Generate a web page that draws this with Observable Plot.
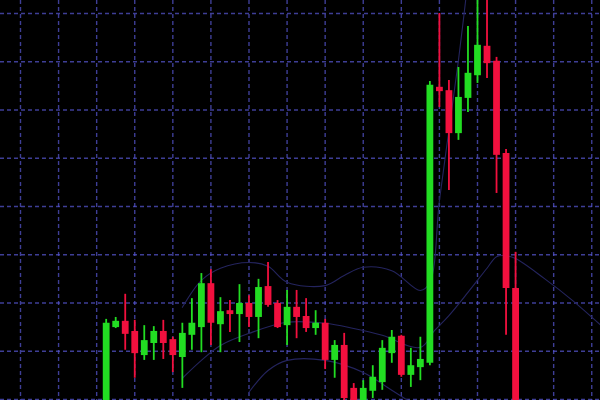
<!DOCTYPE html>
<html>
<head>
<meta charset="utf-8">
<script src="https://cdn.jsdelivr.net/npm/d3@7"></script>
<script src="https://cdn.jsdelivr.net/npm/@observablehq/plot@0.6"></script>
<style>
  html, body { margin: 0; padding: 0; background: #000; overflow: hidden; }
  #chart svg { display: block; }
</style>
</head>
<body>
<div id="chart"></div>
<script>
// Candle data (index = session number)
const opens  = [97.3,114.9,116.2,114.1,109.1,111.6,114.1,112.4,108.7,113.3,114.9,124.0,115.5,118.4,117.6,119.9,117.0,123.4,119.9,115.3,119.1,117.2,114.7,115.8,108.1,111.2,102.3,97.7,101.7,103.5,109.5,113.1,105.0,106.6,107.5,164.7,164.0,155.1,162.4,167.1,173.2,170.1,151.0,123.0];
const closes = [115.8,116.2,113.5,109.5,112.2,114.1,111.6,109.1,113.7,115.8,124.0,115.8,118.2,117.6,119.9,117.0,123.2,119.5,114.9,119.1,117.0,114.7,115.8,108.1,111.2,100.2,98.1,102.3,104.6,110.6,112.9,105.0,107.0,108.3,165.1,163.8,155.1,162.6,167.6,173.4,169.6,150.6,123.0,97.7];
const highs  = [116.6,117.0,121.8,116.4,115.3,115.1,116.4,112.9,115.8,120.9,126.1,126.9,121.1,120.5,123.8,121.5,124.9,128.4,120.5,122.6,122.6,120.9,118.4,116.6,112.2,113.7,103.3,103.9,107.0,112.2,114.3,113.3,110.6,112.9,165.9,180.0,166.1,168.8,177.3,185.0,186.0,170.9,151.8,130.5];
const lows   = [95.7,114.7,110.2,104.4,108.1,108.1,108.3,105.6,102.3,110.2,109.7,111.2,109.7,113.9,111.8,114.9,112.6,119.1,114.7,111.2,112.6,113.9,113.3,106.2,104.4,98.8,97.0,96.0,100.2,101.9,107.5,104.6,102.5,103.9,107.0,160.5,143.3,153.7,159.5,165.5,166.5,142.7,113.3,96.0];

// Faint band lines (index, value)
const upperIdx = [8,10,12,15,17,19,23,25,27,30,33,34,35,36,37,38];
const upperVal = [119.1,124.7,127.2,128.4,127.6,124.3,123.6,125.7,127.4,126.7,122.6,124.3,141.2,155.8,170.3,186.8];
const midIdx = [8,10,12,15,19,23,26,29,33,34.5,36,38,40,41,42,43,46,49,52];
const midVal = [104.4,108.1,111.2,113.7,116.0,115.8,114.7,113.3,110.8,114.3,117.4,122.2,127.2,129.6,129.8,129.2,125.1,120.5,115.3];
const lowerIdx = [15,17,19,23,27,30,32];
const lowerVal = [101.5,106.0,108.1,108.1,105.6,101.9,99.4];

// Grid ticks
const gridX = [-9,-5,-1,3,7,11,15,19,23,27,31,35,39,43,47,51];
const gridY = [100,110,120,130,140,150,160,170,180];

const GREEN = "#22dd22";
const RED = "#f2103e";

const candles = opens.map((o, i) => ({
  i, open: o, close: closes[i], high: highs[i], low: lows[i], up: closes[i] >= o
}));
const band = (xs, ys) => xs.map((x, k) => ({x, y: ys[k]}));

const chart = Plot.plot({
  width: 600,
  height: 400,
  margin: 0,
  style: { background: "#000", overflow: "hidden" },
  x: { domain: [-11.1, 51.92], axis: null },
  y: { domain: [99.79, 182.69], axis: null },
  marks: [
    Plot.ruleX(gridX, { stroke: "#5656d0", strokeWidth: 1.4, strokeDasharray: "4,3", strokeOpacity: 0.72 }),
    Plot.ruleY(gridY, { stroke: "#5656d0", strokeWidth: 1.4, strokeDasharray: "4,3", strokeOpacity: 0.72 }),
    Plot.line(band(upperIdx, upperVal), { x: "x", y: "y", stroke: "#24245e", strokeWidth: 1.1, curve: "catmull-rom", clip: true }),
    Plot.line(band(midIdx, midVal), { x: "x", y: "y", stroke: "#24245e", strokeWidth: 1.1, curve: "catmull-rom", clip: true }),
    Plot.line(band(lowerIdx, lowerVal), { x: "x", y: "y", stroke: "#24245e", strokeWidth: 1.1, curve: "catmull-rom", clip: true }),
    Plot.ruleX(candles, { x: "i", y1: "low", y2: "high", stroke: d => d.up ? GREEN : RED, strokeWidth: 1.8, clip: true }),
    Plot.ruleX(candles, { x: "i", y1: "open", y2: "close", stroke: d => d.up ? GREEN : RED, strokeWidth: 6.8, clip: true })
  ]
});
document.getElementById("chart").appendChild(chart);
</script>
</body>
</html>
